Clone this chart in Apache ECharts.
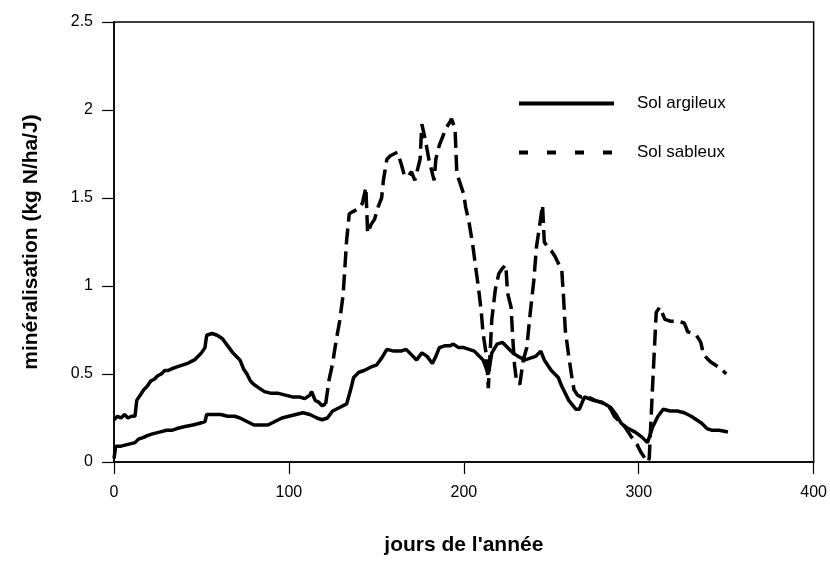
<!DOCTYPE html>
<html>
<head>
<meta charset="utf-8">
<script src="https://cdn.jsdelivr.net/npm/echarts@6/dist/echarts.min.js"></script>
<style>
  html, body { margin: 0; padding: 0; background: #fff; }
  #chart { width: 830px; height: 563px; }
</style>
</head>
<body>
<div id="chart"></div>
<script>
// axis ticks
const xTicks = [0, 100, 200, 300, 400];
const yTicks = [0, 0.5, 1, 1.5, 2, 2.5];

// Sol argileux: [day, kg N/ha/J]
const argileux = [
    [0, 0.02], [1, 0.09], [4, 0.09], [8, 0.1], [12, 0.11], [14, 0.13], [17, 0.14], [19, 0.15],
    [22, 0.16], [26, 0.17], [30, 0.18], [33, 0.18], [36, 0.19], [40, 0.2], [45, 0.21], [49, 0.22],
    [52, 0.23], [53, 0.27], [57, 0.27], [61, 0.27], [65, 0.26], [69, 0.26], [72, 0.25], [76, 0.23],
    [80, 0.21], [84, 0.21], [88, 0.21], [92, 0.23], [96, 0.25], [100, 0.26], [104, 0.27], [108, 0.28],
    [112, 0.27], [116, 0.25], [119, 0.24], [122, 0.25], [125, 0.29], [129, 0.31], [133, 0.33],
    [135, 0.4], [137, 0.48], [140, 0.51], [143, 0.52], [147, 0.54], [150, 0.55], [153, 0.59],
    [156, 0.64], [160, 0.63], [164, 0.63], [167, 0.64], [170, 0.61], [173, 0.58], [176, 0.62],
    [179, 0.6], [182, 0.56], [184, 0.6], [186, 0.65], [189, 0.66], [192, 0.66], [194, 0.67],
    [197, 0.65], [200, 0.65], [203, 0.64], [206, 0.63], [209, 0.6], [211, 0.58], [214, 0.5],
    [216, 0.62], [219, 0.67], [222, 0.68], [225, 0.65], [228, 0.62], [231, 0.6], [235, 0.58],
    [238, 0.59], [241, 0.6], [244, 0.63], [246, 0.58], [250, 0.52], [254, 0.48], [256, 0.43],
    [260, 0.35], [264, 0.3], [266, 0.3], [269, 0.37], [274, 0.35], [279, 0.34], [284, 0.31],
    [287, 0.27], [290, 0.22], [294, 0.19], [298, 0.17], [302, 0.14], [305, 0.11], [308, 0.2],
    [311, 0.26], [314, 0.3], [318, 0.29], [322, 0.29], [326, 0.28], [330, 0.26], [333, 0.24],
    [336, 0.22], [339, 0.19], [342, 0.18], [346, 0.18], [351, 0.17]
];

// Sol sableux, first part (drawn solid in the original)
const sableuxDebut = [
    [0, 0.24], [2, 0.26], [4, 0.25], [6, 0.27], [8, 0.25], [10, 0.26], [12, 0.26], [13, 0.35],
    [15, 0.38], [17, 0.41], [19, 0.43], [21, 0.46], [23, 0.47], [25, 0.49], [27, 0.5], [29, 0.52],
    [31, 0.52], [33, 0.53], [36, 0.54], [39, 0.55], [42, 0.56], [44, 0.57], [46, 0.58], [48, 0.6],
    [50, 0.62], [52, 0.65], [53, 0.72], [56, 0.73], [59, 0.72], [62, 0.7], [65, 0.66], [68, 0.62],
    [70, 0.6], [72, 0.58], [74, 0.53], [76, 0.5], [78, 0.46], [80, 0.44], [83, 0.42], [86, 0.4],
    [90, 0.39], [94, 0.39], [98, 0.38], [102, 0.37], [106, 0.37], [109, 0.36], [112, 0.38],
    [113, 0.4], [115, 0.35], [117, 0.34], [119, 0.32], [121, 0.33]
];

// Sol sableux, rest (dashed)
const sableux = [
    [121, 0.33], [123, 0.47], [125, 0.56], [127, 0.69], [129, 0.8], [131, 0.95], [133, 1.26],
    [134.5, 1.41], [136, 1.42], [138, 1.43], [140, 1.44], [142, 1.47], [144, 1.56], [145, 1.3],
    [147, 1.35], [149, 1.38], [151, 1.45], [153, 1.5], [154, 1.6], [156, 1.72], [158, 1.74],
    [160, 1.75], [162, 1.76], [164, 1.7], [166, 1.63], [168, 1.62], [170, 1.65], [172, 1.6],
    [173, 1.61], [175, 1.72], [176, 1.92], [178, 1.83], [180, 1.72], [181, 1.68], [183, 1.6],
    [184, 1.72], [186, 1.8], [188, 1.85], [190, 1.9], [192, 1.93], [193, 1.95], [194, 1.92],
    [195, 1.89], [196, 1.64], [198, 1.58], [200, 1.52], [201, 1.45], [203, 1.36], [205, 1.24],
    [207, 1.09], [208.5, 0.98], [210, 0.85], [211, 0.73], [213, 0.6], [214, 0.42], [216, 0.81],
    [218, 0.98], [220, 1.07], [222, 1.1], [224, 1.12], [225, 0.96], [227, 0.88], [228, 0.7],
    [229, 0.55], [230, 0.47], [232, 0.44], [233, 0.43], [234, 0.58], [236, 0.65], [238, 0.85],
    [240, 1.03], [241.5, 1.22], [243, 1.32], [245, 1.46], [246, 1.25], [248, 1.22], [250, 1.2],
    [252, 1.17], [254, 1.13], [256, 1.09], [257, 0.94], [258, 0.75], [260, 0.6], [261.5, 0.5],
    [263, 0.41], [265, 0.38], [267, 0.37], [271, 0.37], [275, 0.35], [281, 0.33], [284, 0.3],
    [286, 0.26], [288, 0.24], [292, 0.2], [296, 0.14], [299, 0.1], [301, 0.06], [303, 0.03],
    [305, 0.0], [306, 0.02], [308, 0.45], [310, 0.85], [312, 0.88], [315, 0.81], [318, 0.8],
    [322, 0.8], [326, 0.79], [328, 0.74], [331, 0.73], [333, 0.72], [335.5, 0.68], [337, 0.61],
    [339, 0.59], [341, 0.57], [344, 0.55], [347, 0.53], [350, 0.5]
];

const font = "'Liberation Sans', Arial, Helvetica, sans-serif";

const chart = echarts.init(document.getElementById("chart"), null, { renderer: "canvas" });

const lineWidth = 3.5;

chart.setOption({
    animation: false,
    backgroundColor: "#fff",
    grid: {
        left: 114,
        right: 14,
        top: 22,
        bottom: 101,
        show: true,
        borderColor: "#000",
        borderWidth: 1.5
    },
    legend: {
        left: 512,
        top: 90,
        orient: "vertical",
        itemWidth: 95,
        itemHeight: 20,
        itemGap: 32,
        itemStyle: { opacity: 0 },
        textStyle: {
            fontFamily: font,
            fontSize: 17,
            color: "#000",
            padding: [0, 0, 0, 18]
        },
        data: [
            { name: "Sol argileux", lineStyle: { width: 4, color: "#000", type: "solid" } },
            { name: "Sol sableux", lineStyle: { width: 4, color: "#000", type: [9, 19] } }
        ]
    },
    xAxis: {
        type: "value",
        min: 0,
        max: 400,
        interval: 100,
        name: "jours de l'année",
        nameLocation: "middle",
        nameGap: 73,
        nameTextStyle: { fontFamily: font, fontSize: 21, fontWeight: "bold", color: "#000" },
        axisLine: { lineStyle: { color: "#000", width: 1.5 } },
        axisTick: { show: true, length: 12, lineStyle: { color: "#000", width: 1.2 } },
        axisLabel: {
            margin: 23,
            fontFamily: font,
            fontSize: 16,
            color: "#000",
            formatter: function (v) {
                return xTicks.indexOf(v) >= 0 ? String(v) : "";
            }
        },
        splitLine: { show: false }
    },
    yAxis: {
        type: "value",
        min: 0,
        max: 2.5,
        interval: 0.5,
        name: "minéralisation (kg N/ha/J)",
        nameLocation: "middle",
        nameGap: 72,
        nameTextStyle: { fontFamily: font, fontSize: 21, fontWeight: "bold", color: "#000" },
        axisLine: { show: true, lineStyle: { color: "#000", width: 1.5 } },
        axisTick: { show: true, length: 12, lineStyle: { color: "#000", width: 1.2 } },
        axisLabel: {
            margin: 21,
            fontFamily: font,
            fontSize: 16,
            color: "#000",
            formatter: function (v) {
                const t = yTicks.find(function (y) { return Math.abs(y - v) < 1e-9; });
                return t === undefined ? "" : String(t);
            }
        },
        splitLine: { show: false }
    },
    series: [
        {
            name: "Sol argileux",
            type: "line",
            data: argileux,
            showSymbol: false,
            symbol: "none",
            lineStyle: { color: "#000", width: lineWidth },
            itemStyle: { color: "#000" }
        },
        {
            name: "sableux-debut",
            type: "line",
            data: sableuxDebut,
            showSymbol: false,
            symbol: "none",
            lineStyle: { color: "#000", width: lineWidth },
            itemStyle: { color: "#000" }
        },
        {
            name: "Sol sableux",
            type: "line",
            data: sableux,
            showSymbol: false,
            symbol: "none",
            lineStyle: { color: "#000", width: lineWidth, type: [16, 7] },
            itemStyle: { color: "#000" }
        }
    ]
});
</script>
</body>
</html>
